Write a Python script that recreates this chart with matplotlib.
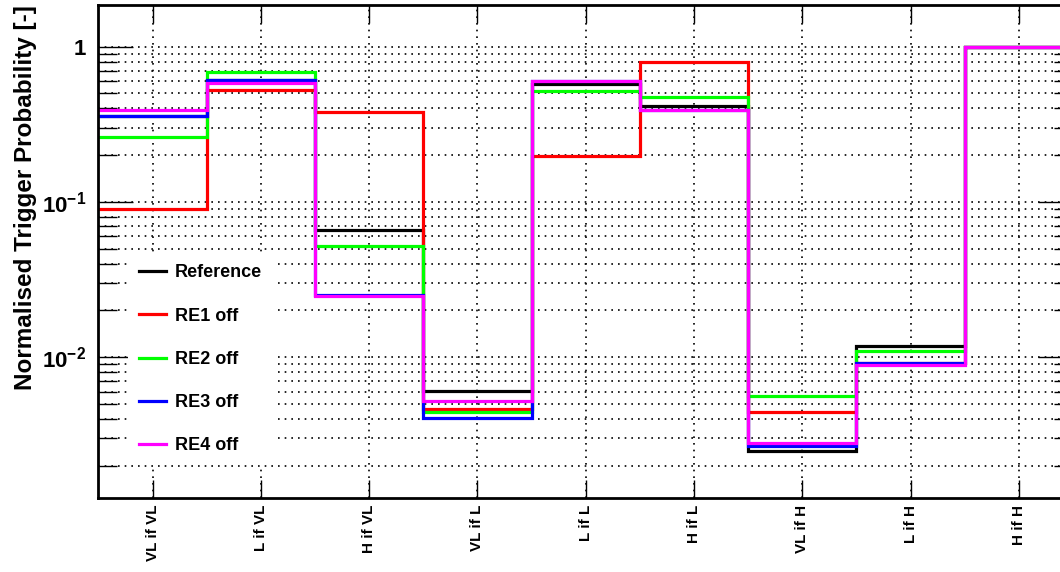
import matplotlib
matplotlib.use("Agg")
import matplotlib.pyplot as plt
from matplotlib.ticker import FuncFormatter
import numpy as np

plt.rcParams['font.family'] = ['Liberation Sans', 'DejaVu Sans']
plt.rcParams['font.weight'] = 'bold'
plt.rcParams['mathtext.fontset'] = 'custom'
plt.rcParams['mathtext.rm'] = 'Liberation Sans:bold'
plt.rcParams['mathtext.bf'] = 'Liberation Sans:bold'

categories = ["VL if VL", "L if VL", "H if VL", "VL if L", "L if L",
              "H if L", "VL if H", "L if H", "H if H"]

reference = [0.36, 0.61, 0.0657, 0.0061, 0.574, 0.412, 0.0025, 0.0119, 1.0]
re1_off = [0.090, 0.528, 0.379, 0.00462, 0.199, 0.792, 0.00446, 0.0092, 1.0]
re2_off = [0.264, 0.683, 0.052, 0.00446, 0.515, 0.474, 0.0056, 0.0109, 1.0]
re3_off = [0.36, 0.612, 0.025, 0.00408, 0.603, 0.392, 0.00269, 0.0092, 1.0]
re4_off = [0.392, 0.583, 0.0248, 0.00525, 0.603, 0.392, 0.0028, 0.00888, 1.0]

series = [
    ("Reference", reference, "#000000"),
    ("RE1 off", re1_off, "#ff0000"),
    ("RE2 off", re2_off, "#00ff00"),
    ("RE3 off", re3_off, "#0000ff"),
    ("RE4 off", re4_off, "#ff00ff"),
]

fig = plt.figure(figsize=(10.6, 5.72), dpi=100)
ax = fig.add_axes([98.4 / 1060, 1 - 498 / 572, (1073 - 98.4) / 1060, (498 - 5) / 572])

edges = np.arange(len(categories) + 1)
for label, vals, col in series:
    ax.stairs(vals, edges, baseline=None, color=col, linewidth=2.3, label=label)

ax.set_yscale("log")
ax.set_ylim(0.00124, 1.856)
ax.set_xlim(0, len(categories))


def fmt(v, pos):
    e = int(round(np.log10(v)))
    if e == 0:
        return "1"
    return r"$\mathregular{10^{%d}}$" % e


ax.yaxis.set_major_formatter(FuncFormatter(fmt))

ax.set_xticks(edges[:-1] + 0.5)
ax.set_xticklabels(categories, rotation=90, fontsize=11, fontweight='bold')
ax.tick_params(axis='x', which='major', direction='in', length=13, width=1,
               top=True, pad=5)
ax.tick_params(axis='x', which='minor', bottom=False, top=False)
ax.tick_params(axis='y', which='major', direction='in', length=25, width=1,
               right=True, labelsize=16, pad=9)
ax.tick_params(axis='y', which='minor', direction='in', length=14, width=1,
               right=True)
for lab in ax.get_yticklabels():
    lab.set_fontweight('bold')

for s in ax.spines.values():
    s.set_linewidth(2)

ax.grid(True, which='major', axis='x', color='black', linestyle=(0, (1, 3)), linewidth=1.2)
ax.grid(True, which='both', axis='y', color='black', linestyle=(0, (1, 3)), linewidth=1.2)
ax.set_axisbelow(True)

ax.set_ylabel("Normalised Trigger Probability [-]", fontsize=17.5, fontweight='bold',
              loc='top', labelpad=3)

leg = ax.legend(loc='upper left', bbox_to_anchor=(0.021, 0.514), frameon=True,
                fontsize=13, labelspacing=1.45, handlelength=1.5,
                handletextpad=0.5, borderpad=0.6, fancybox=False)
leg.get_frame().set_linewidth(0)
leg.get_frame().set_facecolor('white')
leg.get_frame().set_alpha(1)
for t in leg.get_texts():
    t.set_fontweight('bold')

fig.savefig("out.png", dpi=100)
